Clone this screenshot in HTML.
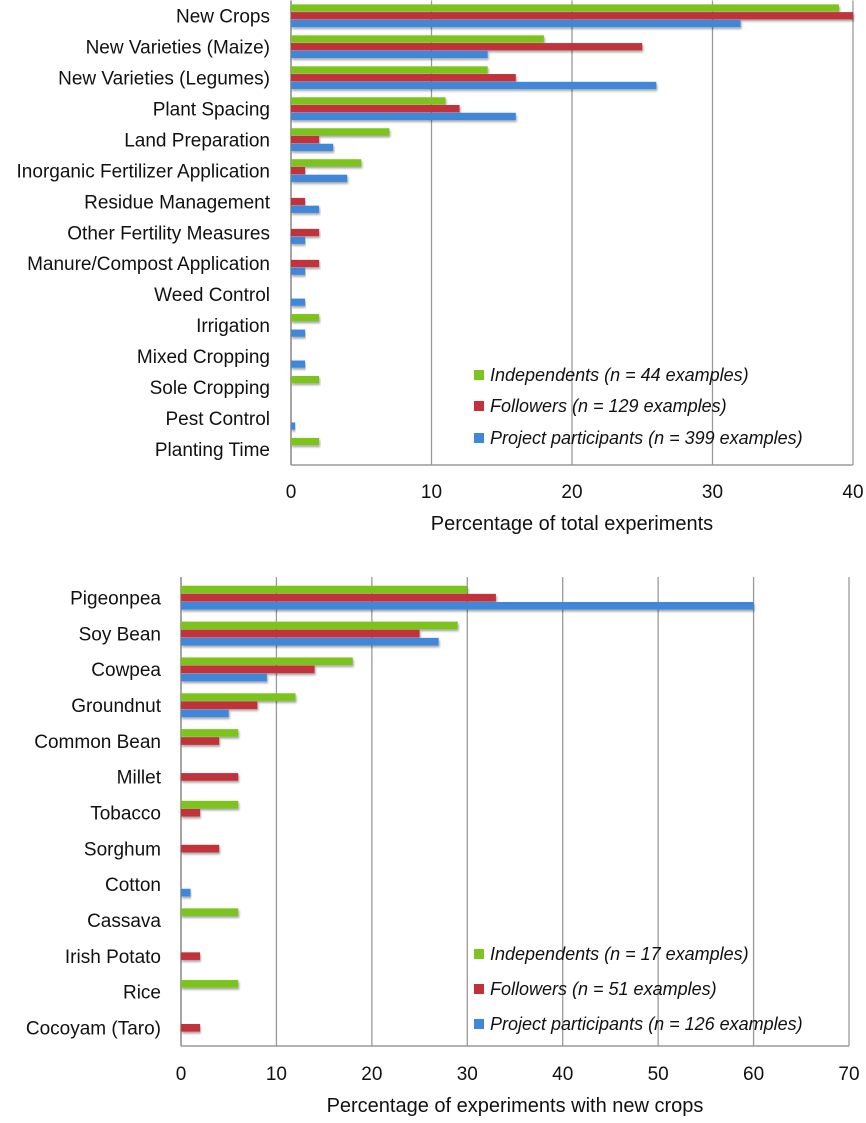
<!DOCTYPE html>
<html><head><meta charset="utf-8"><style>
body{margin:0;background:#fff;}
svg text{font-family:"Liberation Sans",sans-serif;fill:#111;}
</style></head><body>
<svg id="c" width="866" height="1118"></svg>
<script>
const topCats=["New Crops","New Varieties (Maize)","New Varieties (Legumes)","Plant Spacing","Land Preparation","Inorganic Fertilizer Application","Residue Management","Other Fertility Measures","Manure/Compost Application","Weed Control","Irrigation","Mixed Cropping","Sole Cropping","Pest Control","Planting Time"];
const topIndep=[39,18,14,11,7,5,0,0,0,0,2,0,2,0,2];
const topFollow=[40,25,16,12,2,1,1,2,2,0,0,0,0,0,0];
const topProj=[32,14,26,16,3,4,2,1,1,1,1,1,0,0.3,0];
const topTicks=[0,10,20,30,40];
const topLegend=["Independents (n = 44 examples)","Followers (n = 129 examples)","Project participants (n = 399 examples)"];
const botCats=["Pigeonpea","Soy Bean","Cowpea","Groundnut","Common Bean","Millet","Tobacco","Sorghum","Cotton","Cassava","Irish Potato","Rice","Cocoyam (Taro)"];
const botIndep=[30,29,18,12,6,0,6,0,0,6,0,6,0];
const botFollow=[33,25,14,8,4,6,2,4,0,0,2,0,2];
const botProj=[60,27,9,5,0,0,0,0,1,0,0,0,0];
const botTicks=[0,10,20,30,40,50,60,70];
const botLegend=["Independents (n = 17 examples)","Followers (n = 51 examples)","Project participants (n = 126 examples)"];
const colors=["#7cc41f","#c2303a","#3f87da"];
const svg=document.getElementById('c');
const NS="http://www.w3.org/2000/svg";
function mk(t,a,p){const e=document.createElementNS(NS,t);for(const k in a)e.setAttribute(k,a[k]);(p||svg).appendChild(e);return e;}
const defs=mk('defs',{});
const f=mk('filter',{id:'sh',x:'-5%',y:'-50%',width:'110%',height:'250%'},defs);
mk('feDropShadow',{dx:'1',dy:'2',stdDeviation:'1',"flood-color":'#000',"flood-opacity":'0.35'},f);
function chart(o){
  const x=v=>o.x0+(v-o.min)/(o.max-o.min)*(o.x1-o.x0);
  const n=o.cats.length, pitch=(o.yb-o.yt)/n;
  const g=mk('g',{});
  
  
  o.ticks.forEach(t=>{
    const l=mk('line',{x1:x(t),x2:x(t),y1:o.yt-o.ext,y2:o.yb,stroke:t==0?'#888':'#9a9a9a','stroke-width':t==0?1.5:1.3},g);
    
    
    const tx=mk('text',{x:x(t),y:o.tickY,'text-anchor':'middle','font-size':19},g);
    tx.textContent=t;
    
    
  });
  const bl=mk('line',{x1:o.x0,x2:o.x1,y1:o.yb,y2:o.yb,stroke:'#999','stroke-width':1.5},g);
  
  
  const series=[o.g,o.r,o.b];
  const bh=(pitch*o.frac)/3;
  o.cats.forEach((c,i)=>{
    const cy=o.yt+pitch*(i+0.5);
    const lab=mk('text',{x:o.labX,y:cy+6.5,'text-anchor':'end','font-size':19},g);
    lab.textContent=c;
    
    
    series.forEach((s,j)=>{
      if(s[i]<=0)return;
      const r=mk('rect',{x:x(0),y:cy-1.5*bh+j*bh,width:x(s[i])-x(0),height:bh-0.5,fill:colors[j],filter:'url(#sh)'},g);
      
      
    });
  });
  o.legend.forEach((t,j)=>{
    const r=mk('rect',{x:o.legX,y:o.legY[j]-9,width:10,height:10,fill:colors[j]},g);
    
    
    const tx=mk('text',{x:o.legX+16,y:o.legY[j]+2,'font-size':18,'font-style':'italic'},g);
    tx.textContent=t;
    
    
  });
  const ti=mk('text',{x:(o.x0+o.x1)/2,y:o.titleY,'text-anchor':'middle','font-size':20},g);
  ti.textContent=o.title;
  
  
}
chart({name:'top-chart',cats:topCats,g:topIndep,r:topFollow,b:topProj,ticks:topTicks,min:0,max:40,x0:291,x1:853,yt:0.5,yb:465,ext:0,frac:0.75,tickY:498,labX:270,legX:474,legY:[379,410,442],legend:topLegend,title:'Percentage of total experiments',titleY:530});
chart({name:'bottom-chart',cats:botCats,g:botIndep,r:botFollow,b:botProj,ticks:botTicks,min:0,max:70,x0:181,x1:849,yt:580,yb:1046,ext:3,frac:0.68,tickY:1080,labX:161,legX:474,legY:[958,993,1028],legend:botLegend,title:'Percentage of experiments with new crops',titleY:1112});
</script>
</body></html>
